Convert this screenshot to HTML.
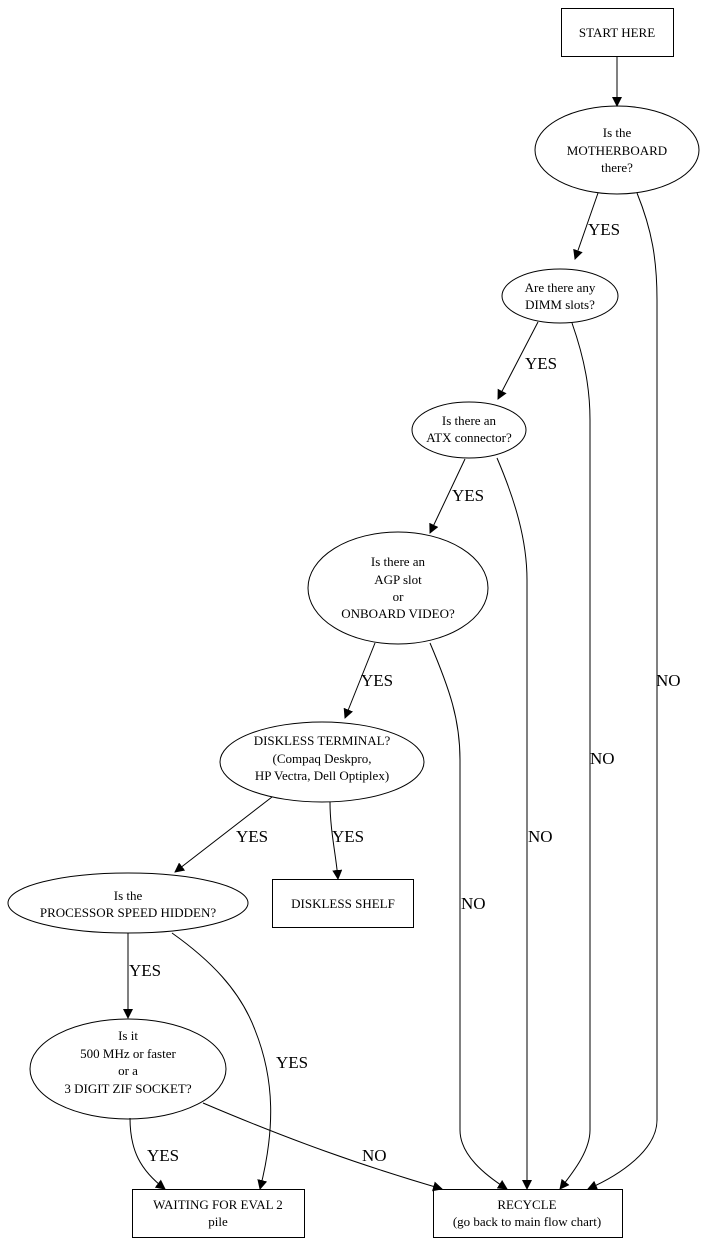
<!DOCTYPE html>
<html><head><meta charset="utf-8"><style>
html,body{margin:0;padding:0;background:#fff;}
svg{display:block;}
text{font-family:"Liberation Serif",serif;fill:#000;}
.n{font-size:13px;text-anchor:middle;}
.l{font-size:17px;}
</style></head><body>
<svg width="706" height="1244" viewBox="0 0 706 1244" xmlns="http://www.w3.org/2000/svg">
<defs><marker id="a" markerWidth="10" markerHeight="10" refX="9" refY="5" orient="auto" markerUnits="userSpaceOnUse"><path d="M0,0 L10,5 L0,10 z" fill="#000"/></marker></defs>
<g fill="none" stroke="#000" stroke-width="1">
<rect x="561.5" y="8.5" width="112" height="48"/>
<ellipse cx="617" cy="150" rx="82" ry="44"/>
<ellipse cx="560" cy="296" rx="58" ry="27"/>
<ellipse cx="469" cy="430" rx="57" ry="28"/>
<ellipse cx="398" cy="588" rx="90" ry="56"/>
<ellipse cx="322" cy="762" rx="102" ry="40"/>
<ellipse cx="128" cy="903" rx="120" ry="30"/>
<rect x="272.5" y="879.5" width="141" height="48"/>
<ellipse cx="128" cy="1069" rx="98" ry="50"/>
<rect x="132.5" y="1189.5" width="172" height="48"/>
<rect x="433.5" y="1189.5" width="189" height="48"/>
<g marker-end="url(#a)">
<path d="M617,56 L617,106"/>
<path d="M598,193 L575,259"/>
<path d="M637,193 C652,230 657,260 657,300 L657,1120 C657,1150 620,1175 588,1189"/>
<path d="M538,322 L498,399"/>
<path d="M572,323 C585,360 590,390 590,420 L590,1130 C590,1150 575,1170 560,1189"/>
<path d="M465,459 L430,533"/>
<path d="M497,458 C515,500 527,540 527,580 L527,1189"/>
<path d="M375,643 L345,718"/>
<path d="M430,643 C450,690 460,720 460,760 L460,1130 C460,1155 485,1175 507,1189"/>
<path d="M272,797 L175,872"/>
<path d="M330,802 C330,830 336,855 338,879"/>
<path d="M128,933 L128,1018"/>
<path d="M172,933 C210,960 240,990 255,1030 C275,1080 275,1130 260,1189"/>
<path d="M130,1118 C130,1150 140,1170 165,1189"/>
<path d="M203,1103 C290,1140 360,1165 442,1189"/>
</g>
</g>
<text class="n" x="617" y="37">START HERE</text>
<text class="n" x="617" y="137">Is the</text>
<text class="n" x="617" y="155">MOTHERBOARD</text>
<text class="n" x="617" y="172">there?</text>
<text class="n" x="560" y="292">Are there any</text>
<text class="n" x="560" y="309">DIMM slots?</text>
<text class="n" x="469" y="425">Is there an</text>
<text class="n" x="469" y="442">ATX connector?</text>
<text class="n" x="398" y="566">Is there an</text>
<text class="n" x="398" y="584">AGP slot</text>
<text class="n" x="398" y="601">or</text>
<text class="n" x="398" y="618">ONBOARD VIDEO?</text>
<text class="n" x="322" y="745">DISKLESS TERMINAL?</text>
<text class="n" x="322" y="763">(Compaq Deskpro,</text>
<text class="n" x="322" y="780">HP Vectra, Dell Optiplex)</text>
<text class="n" x="128" y="900">Is the</text>
<text class="n" x="128" y="917">PROCESSOR SPEED HIDDEN?</text>
<text class="n" x="343" y="908">DISKLESS SHELF</text>
<text class="n" x="128" y="1040">Is it</text>
<text class="n" x="128" y="1058">500 MHz or faster</text>
<text class="n" x="128" y="1075">or a</text>
<text class="n" x="128" y="1093">3 DIGIT ZIF SOCKET?</text>
<text class="n" x="218" y="1209">WAITING FOR EVAL 2</text>
<text class="n" x="218" y="1226">pile</text>
<text class="n" x="527" y="1209">RECYCLE</text>
<text class="n" x="527" y="1226">(go back to main flow chart)</text>
<text class="l" x="588" y="235">YES</text>
<text class="l" x="525" y="369">YES</text>
<text class="l" x="452" y="501">YES</text>
<text class="l" x="361" y="686">YES</text>
<text class="l" x="236" y="842">YES</text>
<text class="l" x="332" y="842">YES</text>
<text class="l" x="129" y="976">YES</text>
<text class="l" x="276" y="1068">YES</text>
<text class="l" x="147" y="1161">YES</text>
<text class="l" x="656" y="686">NO</text>
<text class="l" x="590" y="764">NO</text>
<text class="l" x="528" y="842">NO</text>
<text class="l" x="461" y="909">NO</text>
<text class="l" x="362" y="1161">NO</text>
</svg>
</body></html>
